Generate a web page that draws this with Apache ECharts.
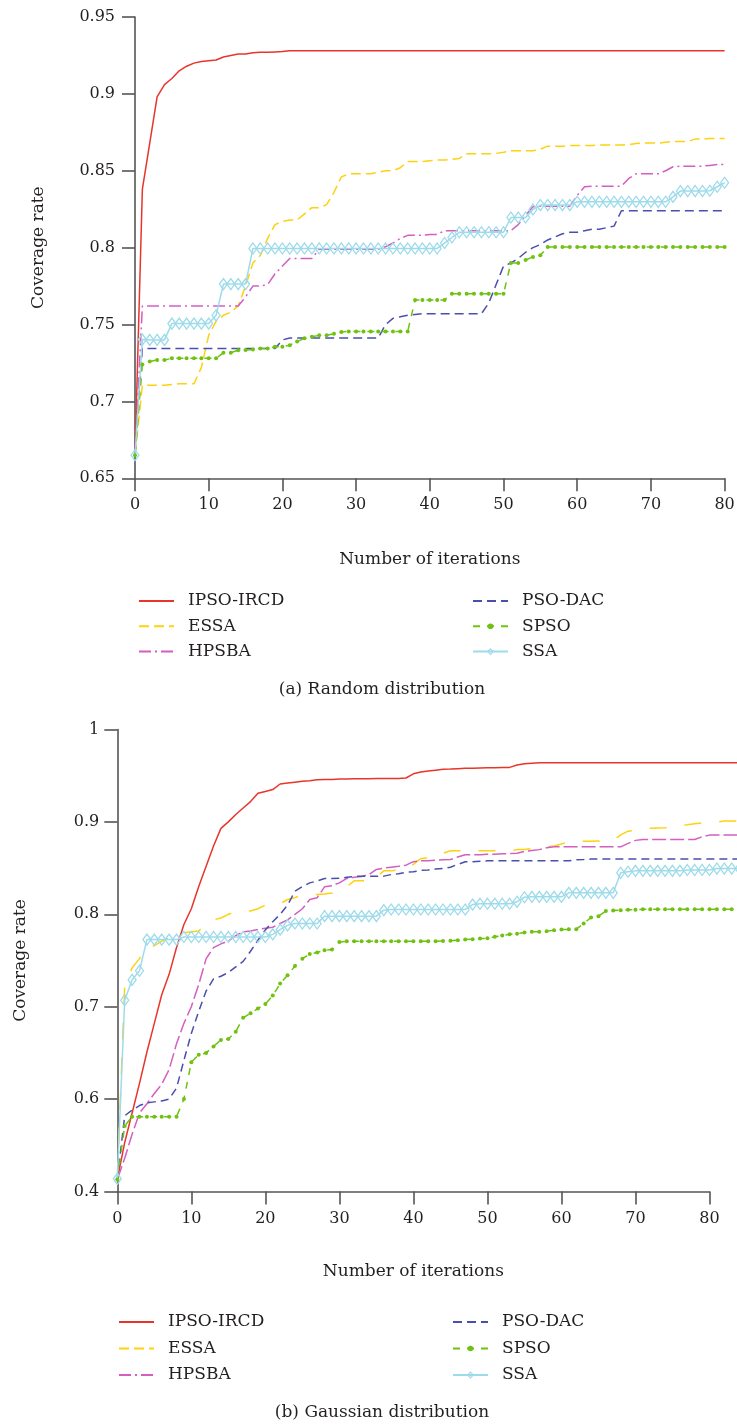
<!DOCTYPE html>
<html>
<head>
<meta charset="utf-8">
<title>Coverage rate</title>
<script src="https://cdn.jsdelivr.net/npm/echarts@6/dist/echarts.min.js"></script>
<style>
  html, body { margin: 0; padding: 0; background: #fff; }
  #chart { width: 737px; height: 1425px; }
</style>
</head>
<body>
<div id="chart"></div>
<script>
  var seriesNames = ['IPSO-IRCD', 'ESSA', 'HPSBA', 'PSO-DAC', 'SPSO', 'SSA'];

  // (a) random distribution, iterations 0..80
  var randomIpso = [
    0.665, 0.838, 0.868, 0.898, 0.906, 0.910, 0.915, 0.918, 0.920, 0.921,
    0.9215, 0.922, 0.924, 0.925, 0.926, 0.926, 0.9268, 0.927, 0.927, 0.9273,
    0.9276, 0.928, 0.928, 0.928, 0.928, 0.928, 0.928, 0.928, 0.928, 0.928,
    0.928, 0.928, 0.928, 0.928, 0.928, 0.928, 0.928, 0.928, 0.928, 0.928,
    0.928, 0.928, 0.928, 0.928, 0.928, 0.928, 0.928, 0.928, 0.928, 0.928,
    0.928, 0.928, 0.928, 0.928, 0.928, 0.928, 0.928, 0.928, 0.928, 0.928,
    0.928, 0.928, 0.928, 0.928, 0.928, 0.928, 0.928, 0.928, 0.928, 0.928,
    0.928, 0.928, 0.928, 0.928, 0.928, 0.928, 0.928, 0.928, 0.928, 0.928,
    0.928
  ];
  var randomEssa = [
    0.665, 0.7105, 0.7105, 0.7105, 0.7105, 0.711, 0.7115, 0.7115, 0.7115, 0.722,
    0.743, 0.752, 0.756, 0.758, 0.762, 0.775, 0.790, 0.795, 0.806, 0.815,
    0.817, 0.818, 0.818, 0.822, 0.826, 0.826, 0.828, 0.836, 0.846, 0.848,
    0.848, 0.848, 0.848, 0.849, 0.850, 0.850, 0.852, 0.856, 0.856, 0.856,
    0.8565, 0.857, 0.857, 0.8575, 0.858, 0.861, 0.861, 0.861, 0.861, 0.8613,
    0.862, 0.863, 0.863, 0.863, 0.863, 0.864, 0.866, 0.866, 0.866, 0.8665,
    0.8665, 0.8665, 0.8665, 0.8667, 0.8667, 0.8667, 0.8667, 0.867, 0.8678, 0.868,
    0.868, 0.868, 0.8685, 0.869, 0.869, 0.869, 0.8706, 0.8706, 0.871, 0.871,
    0.871
  ];
  var randomHpsba = [
    0.665, 0.762, 0.762, 0.762, 0.762, 0.762, 0.762, 0.762, 0.762, 0.762,
    0.762, 0.762, 0.762, 0.762, 0.762, 0.768, 0.775, 0.775, 0.776, 0.783,
    0.788, 0.793, 0.793, 0.793, 0.793, 0.799, 0.799, 0.799, 0.799, 0.799,
    0.799, 0.799, 0.799, 0.799, 0.8006, 0.803, 0.806, 0.808, 0.808, 0.808,
    0.8086, 0.8086, 0.811, 0.811, 0.811, 0.811, 0.811, 0.811, 0.811, 0.811,
    0.811, 0.811, 0.815, 0.821, 0.8266, 0.827, 0.827, 0.827, 0.827, 0.827,
    0.834, 0.8396, 0.840, 0.840, 0.840, 0.840, 0.840, 0.845, 0.848, 0.848,
    0.848, 0.848, 0.850, 0.8526, 0.853, 0.853, 0.853, 0.853, 0.8535, 0.854,
    0.854
  ];
  var randomPsoDac = [
    0.665, 0.7344, 0.7344, 0.7344, 0.7344, 0.7344, 0.7344, 0.7344, 0.7344, 0.7344,
    0.7344, 0.7344, 0.7344, 0.7344, 0.7344, 0.7344, 0.7344, 0.7344, 0.7344, 0.7344,
    0.740, 0.7413, 0.7413, 0.7413, 0.7413, 0.7413, 0.7413, 0.7413, 0.7413, 0.7413,
    0.7413, 0.7413, 0.7413, 0.7413, 0.750, 0.754, 0.755, 0.756, 0.7565, 0.757,
    0.757, 0.757, 0.757, 0.757, 0.757, 0.757, 0.757, 0.757, 0.764, 0.776,
    0.788, 0.790, 0.793, 0.797, 0.800, 0.802, 0.805, 0.807, 0.809, 0.810,
    0.810, 0.811, 0.812, 0.812, 0.813, 0.814, 0.824, 0.824, 0.824, 0.824,
    0.824, 0.824, 0.824, 0.824, 0.824, 0.824, 0.824, 0.824, 0.824, 0.824,
    0.824
  ];
  var randomSpso = [
    0.665, 0.724, 0.726, 0.727, 0.727, 0.728, 0.728, 0.728, 0.728, 0.728,
    0.728, 0.728, 0.7316, 0.7316, 0.7333, 0.7335, 0.7337, 0.7344, 0.7344, 0.7355,
    0.7355, 0.7366, 0.739, 0.741, 0.742, 0.743, 0.743, 0.744, 0.7452, 0.7455,
    0.7455, 0.7455, 0.7455, 0.7455, 0.7455, 0.7455, 0.7455, 0.7455, 0.766, 0.766,
    0.766, 0.766, 0.766, 0.770, 0.770, 0.770, 0.770, 0.770, 0.770, 0.770,
    0.770, 0.790, 0.790, 0.792, 0.794, 0.795, 0.8005, 0.8005, 0.8005, 0.8005,
    0.8005, 0.8005, 0.8005, 0.8005, 0.8005, 0.8005, 0.8005, 0.8005, 0.8005, 0.8005,
    0.8005, 0.8005, 0.8005, 0.8005, 0.8005, 0.8005, 0.8005, 0.8005, 0.8005, 0.8005,
    0.8005
  ];
  var randomSsa = [
    0.665, 0.7402, 0.740, 0.740, 0.740, 0.7506, 0.7506, 0.7506, 0.7506, 0.7506,
    0.7506, 0.756, 0.7763, 0.7763, 0.7763, 0.7763, 0.7995, 0.7995, 0.7995, 0.7995,
    0.7995, 0.7995, 0.7995, 0.7995, 0.7995, 0.7995, 0.7995, 0.7995, 0.7995, 0.7995,
    0.7995, 0.7995, 0.7995, 0.7995, 0.7995, 0.7995, 0.7995, 0.7995, 0.7995, 0.7995,
    0.7995, 0.7995, 0.803, 0.8066, 0.810, 0.810, 0.810, 0.810, 0.810, 0.810,
    0.810, 0.8196, 0.8196, 0.8196, 0.8248, 0.8277, 0.8277, 0.8277, 0.8277, 0.8277,
    0.8298, 0.8298, 0.8298, 0.8298, 0.8298, 0.8298, 0.8298, 0.8298, 0.8298, 0.8298,
    0.8298, 0.8298, 0.8298, 0.833, 0.8368, 0.8368, 0.8368, 0.8368, 0.837, 0.8396,
    0.8422
  ];

  // (b) gaussian distribution, iterations 0..84 (plot runs past the 80 tick)
  var gaussIpso = [
    0.513, 0.553, 0.585, 0.617, 0.651, 0.682, 0.713, 0.735, 0.764, 0.789,
    0.806, 0.830, 0.852, 0.874, 0.893, 0.900, 0.908, 0.915, 0.922, 0.931,
    0.933, 0.935, 0.941, 0.942, 0.943, 0.944, 0.9445, 0.9455, 0.946, 0.946,
    0.9464, 0.9465, 0.9466, 0.9467, 0.9468, 0.947, 0.947, 0.947, 0.947, 0.9475,
    0.952, 0.954, 0.955, 0.956, 0.957, 0.9572, 0.9576, 0.958, 0.958, 0.9583,
    0.9585, 0.9587, 0.959, 0.959, 0.9615, 0.963, 0.9635, 0.964, 0.964, 0.964,
    0.964, 0.964, 0.964, 0.964, 0.964, 0.964, 0.964, 0.964, 0.964, 0.964,
    0.964, 0.964, 0.964, 0.964, 0.964, 0.964, 0.964, 0.964, 0.964, 0.964,
    0.964, 0.964, 0.964, 0.964, 0.964
  ];
  var gaussEssa = [
    0.513, 0.723, 0.742, 0.752, 0.765, 0.766, 0.771, 0.775, 0.779, 0.780,
    0.781, 0.782, 0.790, 0.794, 0.796, 0.800, 0.803, 0.8036, 0.8036, 0.806,
    0.810, 0.811, 0.8115, 0.816, 0.818, 0.821, 0.821, 0.8214, 0.822, 0.823,
    0.8243, 0.830, 0.8362, 0.8362, 0.8362, 0.840, 0.847, 0.847, 0.848, 0.8485,
    0.854, 0.8604, 0.861, 0.8615, 0.866, 0.8687, 0.8687, 0.8687, 0.8687, 0.8687,
    0.8687, 0.8687, 0.8687, 0.8687, 0.870, 0.8702, 0.871, 0.872, 0.873, 0.874,
    0.876, 0.8785, 0.879, 0.879, 0.879, 0.8792, 0.8792, 0.880, 0.886, 0.890,
    0.891, 0.8926, 0.893, 0.8935, 0.8937, 0.895, 0.8962, 0.897, 0.898, 0.899,
    0.8995, 0.900, 0.9009, 0.901, 0.901
  ];
  var gaussHpsba = [
    0.513, 0.536, 0.562, 0.585, 0.595, 0.606, 0.616, 0.632, 0.660, 0.682,
    0.700, 0.724, 0.752, 0.764, 0.768, 0.771, 0.777, 0.781, 0.782, 0.7835,
    0.785, 0.786, 0.790, 0.794, 0.800, 0.806, 0.816, 0.818, 0.8297, 0.831,
    0.834, 0.8388, 0.840, 0.841, 0.843, 0.8485, 0.850, 0.851, 0.852, 0.8532,
    0.857, 0.858, 0.858, 0.8585, 0.859, 0.8593, 0.862, 0.8644, 0.8644, 0.8644,
    0.865, 0.865, 0.8655, 0.8658, 0.866, 0.868, 0.869, 0.870, 0.872, 0.873,
    0.873, 0.873, 0.873, 0.873, 0.873, 0.873, 0.873, 0.873, 0.873, 0.8767,
    0.880, 0.881, 0.881, 0.881, 0.881, 0.881, 0.881, 0.881, 0.881, 0.884,
    0.8857, 0.8857, 0.8857, 0.8857, 0.8857
  ];
  var gaussPsoDac = [
    0.513, 0.582, 0.588, 0.593, 0.596, 0.597, 0.598, 0.600, 0.612, 0.642,
    0.671, 0.695, 0.717, 0.730, 0.733, 0.737, 0.743, 0.749, 0.760, 0.772,
    0.783, 0.792, 0.800, 0.810, 0.825, 0.830, 0.834, 0.836, 0.8388, 0.8388,
    0.839, 0.840, 0.841, 0.8413, 0.8413, 0.8413, 0.8413, 0.843, 0.844, 0.8455,
    0.846, 0.8475, 0.848, 0.849, 0.8496, 0.851, 0.854, 0.8568, 0.857, 0.8575,
    0.8579, 0.8579, 0.8579, 0.8579, 0.8579, 0.8579, 0.8579, 0.8579, 0.8579, 0.8579,
    0.8579, 0.8579, 0.859, 0.8593, 0.8598, 0.8598, 0.8598, 0.8598, 0.8598, 0.8598,
    0.8598, 0.8598, 0.8598, 0.8598, 0.8598, 0.8598, 0.8598, 0.8598, 0.8598, 0.8598,
    0.8598, 0.8598, 0.8598, 0.8598, 0.8598
  ];
  var gaussSpso = [
    0.513, 0.571, 0.581, 0.581, 0.581, 0.581, 0.581, 0.581, 0.581, 0.600,
    0.640, 0.648, 0.650, 0.657, 0.664, 0.665, 0.673, 0.688, 0.693, 0.698,
    0.703, 0.712, 0.725, 0.734, 0.744, 0.752, 0.757, 0.7586, 0.7611, 0.7618,
    0.770, 0.7709, 0.7709, 0.7709, 0.7709, 0.7709, 0.7709, 0.7709, 0.7709, 0.7709,
    0.7709, 0.7709, 0.7709, 0.7709, 0.771, 0.7715, 0.772, 0.7727, 0.773, 0.7738,
    0.774, 0.7756, 0.777, 0.7785, 0.779, 0.7803, 0.781, 0.781, 0.7817, 0.7828,
    0.7835, 0.7837, 0.7839, 0.790, 0.7965, 0.798, 0.8037, 0.8041, 0.8045, 0.8048,
    0.8048, 0.8055, 0.8055, 0.8055, 0.8055, 0.8055, 0.8055, 0.8055, 0.8055, 0.8055,
    0.8055, 0.8055, 0.8055, 0.8055, 0.8055
  ];
  var gaussSsa = [
    0.5137, 0.707, 0.729, 0.739, 0.7726, 0.7726, 0.7726, 0.7726, 0.7726, 0.7755,
    0.7755, 0.7755, 0.7755, 0.7755, 0.7755, 0.7755, 0.7755, 0.7755, 0.7755, 0.7755,
    0.7755, 0.7783, 0.7834, 0.788, 0.790, 0.790, 0.790, 0.790, 0.798, 0.798,
    0.798, 0.798, 0.798, 0.798, 0.798, 0.798, 0.8045, 0.8052, 0.8052, 0.8052,
    0.8052, 0.8052, 0.8052, 0.8052, 0.8052, 0.8052, 0.8052, 0.8052, 0.8105, 0.8115,
    0.8115, 0.8115, 0.8115, 0.8115, 0.8135, 0.8185, 0.8189, 0.8189, 0.8189, 0.8189,
    0.8189, 0.8232, 0.8232, 0.8232, 0.8232, 0.8232, 0.8232, 0.8232, 0.8449, 0.846,
    0.847, 0.847, 0.847, 0.847, 0.847, 0.847, 0.847, 0.848, 0.848, 0.848,
    0.848, 0.8495, 0.8495, 0.8495, 0.8495
  ];

  // bottom axis of (b) is drawn evenly spaced but its lowest tick reads 0.4
  var gaussYLabels = ['0.4', '0.6', '0.7', '0.8', '0.9', '1'];

  var FONT = '"DejaVu Serif", "Liberation Serif", serif';
  var TEXT = '#231f20';
  var AXIS = '#555555';

  var looks = {
    'IPSO-IRCD': { color: '#e8352b', plain: true },
    'ESSA':      { color: '#fdd20e', plain: true },
    'HPSBA':     { color: '#d35fc1', plain: true },
    'PSO-DAC':   { color: '#4a4fae', plain: true },
    'SPSO':      { color: '#6fc20f', symbol: 'circle', size: 4 },
    'SSA':       { color: '#9ddbea', symbol: 'diamond', size: [8, 11] }
  };

  var dashRandom = { 'IPSO-IRCD': 'solid', 'ESSA': [10, 5], 'HPSBA': [12, 4, 2, 4], 'PSO-DAC': [9, 5], 'SPSO': [7, 7], 'SSA': 'solid' };
  var dashGauss  = { 'IPSO-IRCD': 'solid', 'ESSA': [17, 18], 'HPSBA': [14, 4], 'PSO-DAC': [8, 5], 'SPSO': [7, 7], 'SSA': 'solid' };

  // plot (b): visible axes stop at 80, the curves run on to ~84 with the same scale
  var gaussLeft = 117.3, gaussUnit = 592.2 / 80, gaussRunTo = 84;

  function toPoints(values) {
    return values.map(function (v, i) { return [i, v]; });
  }

  function buildSeries(dataSets, axisIndex, dashes) {
    return seriesNames.map(function (name, k) {
      var look = looks[name];
      var s = {
        name: name,
        type: 'line',
        xAxisIndex: axisIndex,
        yAxisIndex: axisIndex,
        data: toPoints(dataSets[k]),
        clip: false,
        showSymbol: true,
        symbol: look.plain ? 'circle' : look.symbol,
        symbolSize: look.plain ? 0 : look.size,
        lineStyle: { color: look.color, width: 1.5, type: dashes[name] },
        itemStyle: { color: look.color },
        emphasis: { disabled: true }
      };
      if (look.plain) s.itemStyle = { color: look.color, opacity: 0 };
      if (name === 'SSA') {
        s.itemStyle = { color: 'transparent', borderColor: look.color, borderWidth: 1.3 };
      }
      return s;
    });
  }

  function legendItem(name) {
    if (looks[name].plain) return { name: name, itemStyle: { opacity: 0 } };
    if (name === 'SSA') return { name: name, itemStyle: { color: 'transparent', borderColor: looks[name].color, borderWidth: 1.2 } };
    return { name: name, itemStyle: { color: looks[name].color, opacity: 1 } };
  }

  function legendBlock(names, left, top, gap) {
    return {
      data: names.map(legendItem),
      orient: 'vertical',
      left: left,
      top: top,
      padding: 0,
      itemWidth: 35,
      itemHeight: 7,
      itemGap: gap,
      selectedMode: false,
      textStyle: { fontFamily: FONT, fontSize: 17, color: TEXT, lineHeight: 20, padding: [0, 0, 0, 9] }
    };
  }

  function xAxisFor(gridIndex, nameGap) {
    return {
      gridIndex: gridIndex,
      type: 'value',
      min: 0,
      max: 80,
      interval: 10,
      name: 'Number of iterations',
      nameLocation: 'middle',
      nameGap: nameGap,
      nameTextStyle: { fontFamily: FONT, fontSize: 17, color: TEXT },
      axisLine: { show: true, onZero: false, lineStyle: { color: AXIS, width: 1.6 } },
      axisTick: { show: true, length: 13, lineStyle: { color: AXIS, width: 1.6 } },
      axisLabel: { margin: 19, fontFamily: FONT, fontSize: 16, color: TEXT },
      splitLine: { show: false }
    };
  }

  function yAxisFor(gridIndex, min, max, interval, labelMargin, formatter) {
    var axis = {
      gridIndex: gridIndex,
      type: 'value',
      min: min,
      max: max,
      interval: interval,
      name: 'Coverage rate',
      nameLocation: 'middle',
      nameGap: 88,
      nameTextStyle: { fontFamily: FONT, fontSize: 17, color: TEXT },
      axisLine: { show: true, lineStyle: { color: AXIS, width: 1.6 } },
      axisTick: { show: true, length: 13, lineStyle: { color: AXIS, width: 1.6 } },
      axisLabel: { margin: labelMargin, fontFamily: FONT, fontSize: 16, color: TEXT },
      splitLine: { show: false }
    };
    if (formatter) axis.axisLabel.formatter = formatter;
    return axis;
  }

  var chart = echarts.init(document.getElementById('chart'), null, { renderer: 'canvas' });

  var option = {
    animation: false,
    backgroundColor: '#ffffff',
    grid: [
      { left: 135, top: 17, width: 589.6, height: 461.3, outerBoundsMode: 'none', containLabel: false },
      { left: gaussLeft, top: 729.5, width: gaussUnit * 80, height: 462, outerBoundsMode: 'none', containLabel: false },
      { left: gaussLeft, top: 729.5, width: gaussUnit * gaussRunTo, height: 462, outerBoundsMode: 'none', containLabel: false }
    ],
    xAxis: [
      xAxisFor(0, 73),
      xAxisFor(1, 72),
      { gridIndex: 2, type: 'value', min: 0, max: gaussRunTo, show: false }
    ],
    yAxis: [
      yAxisFor(0, 0.65, 0.95, 0.05, 20, null),
      yAxisFor(1, 0.5, 1, 0.1, 18, function (v) {
        return gaussYLabels[Math.round((v - 0.5) / 0.1)];
      }),
      { gridIndex: 2, type: 'value', min: 0.5, max: 1, show: false }
    ],
    legend: [
      legendBlock(['IPSO-IRCD', 'ESSA', 'HPSBA'], 138, 591, 5.3),
      legendBlock(['PSO-DAC', 'SPSO', 'SSA'], 472, 591, 5.3),
      legendBlock(['IPSO-IRCD', 'ESSA', 'HPSBA'], 118, 1312, 6.5),
      legendBlock(['PSO-DAC', 'SPSO', 'SSA'], 452, 1312, 6.5)
    ],
    graphic: [
      { type: 'text', x: 382, y: 690, style: { text: '(a) Random distribution', font: '17px ' + FONT, fill: TEXT, align: 'center', verticalAlign: 'middle', textAlign: 'center', textVerticalAlign: 'middle' } },
      { type: 'text', x: 382, y: 1413, style: { text: '(b) Gaussian distribution', font: '17px ' + FONT, fill: TEXT, align: 'center', verticalAlign: 'middle', textAlign: 'center', textVerticalAlign: 'middle' } }
    ],
    series: buildSeries([randomIpso, randomEssa, randomHpsba, randomPsoDac, randomSpso, randomSsa], 0, dashRandom)
      .concat(buildSeries([gaussIpso, gaussEssa, gaussHpsba, gaussPsoDac, gaussSpso, gaussSsa], 2, dashGauss))
  };

  chart.setOption(option);

  window.addEventListener('resize', chart.resize);
</script>
</body>
</html>
